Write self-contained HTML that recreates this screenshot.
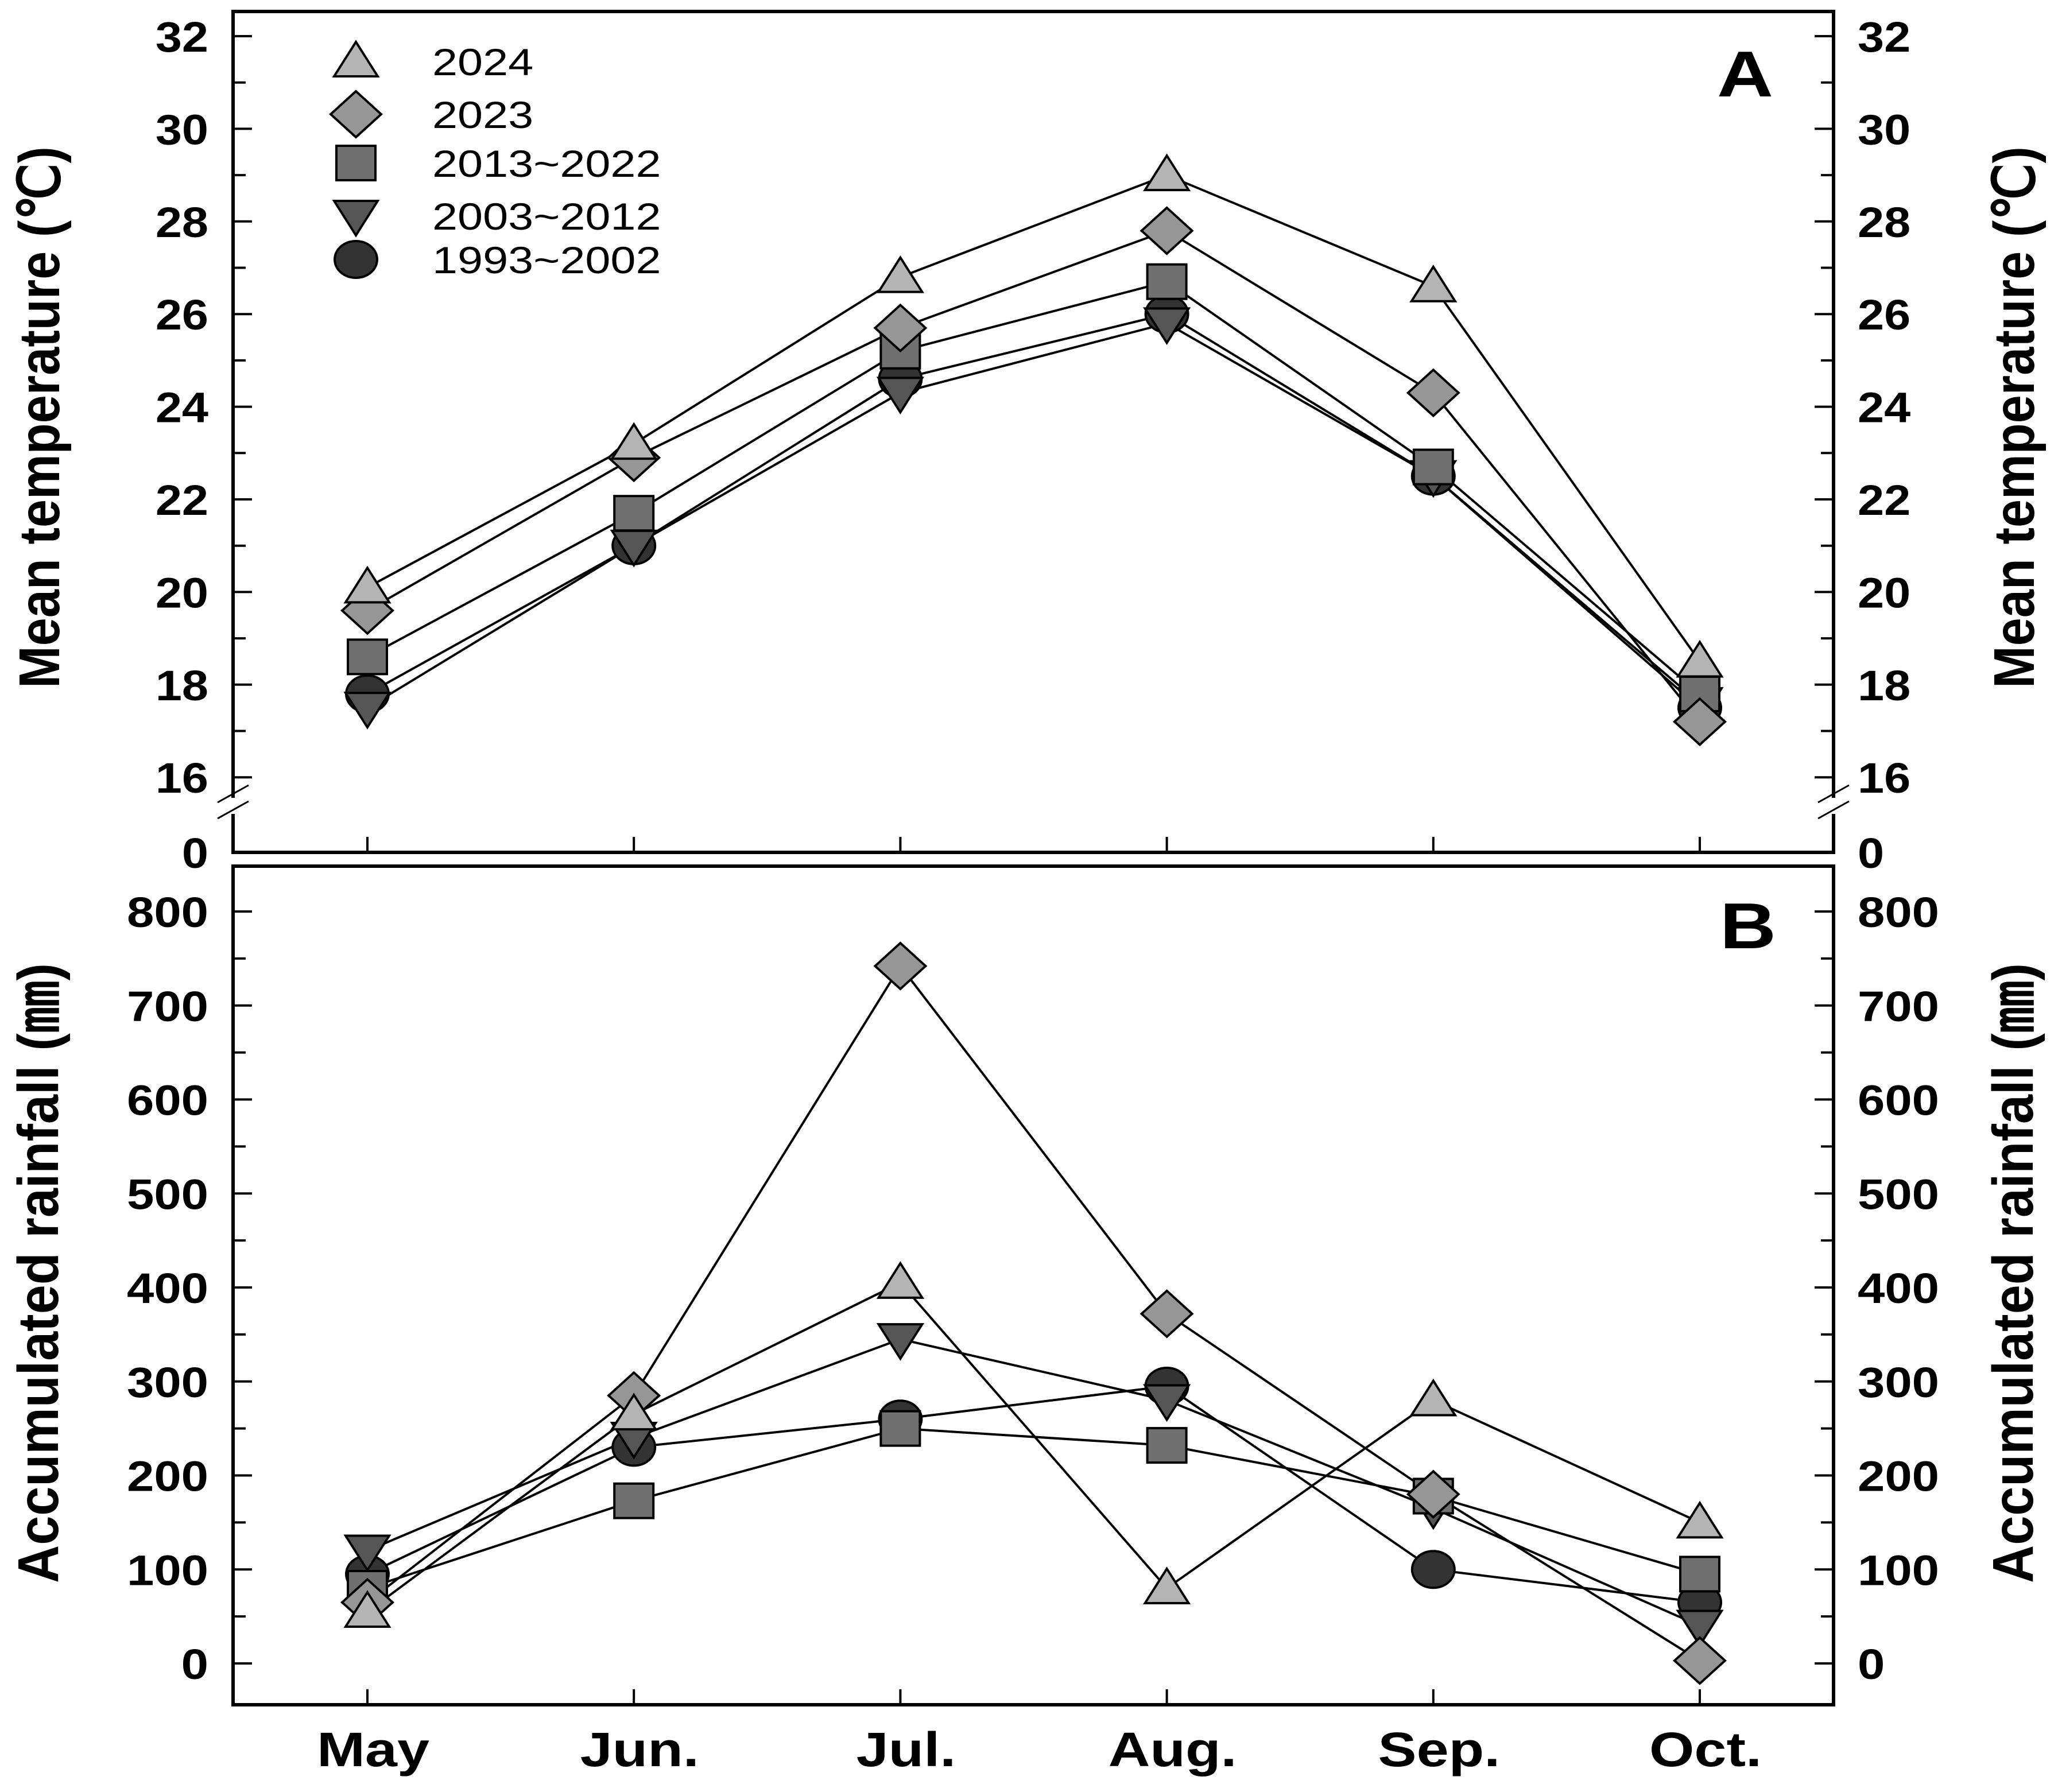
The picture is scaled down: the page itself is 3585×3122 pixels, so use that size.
<!DOCTYPE html>
<html><head><meta charset="utf-8"><style>html,body{margin:0;padding:0;background:#fff}svg{display:block}</style></head>
<body>
<svg id="chart" xmlns="http://www.w3.org/2000/svg" width="3585" height="3122" viewBox="0 0 3585 3122" font-family="Liberation Sans, Arial, sans-serif">
<rect width="3585" height="3122" fill="#fff"/>
<g id="root"></g>
</svg>
<script>
const months = ["May","Jun.","Jul.","Aug.","Sep.","Oct."];
const seriesNames = ["2024","2023","2013~2022","2003~2012","1993~2002"];
const temp2024 = [20.1,23.2,26.8,29.0,26.6,18.5];
const temp2023 = [19.6,22.9,25.7,27.8,24.3,17.2];
const temp2013 = [18.6,21.7,25.2,26.7,22.7,17.8];
const temp2003 = [17.5,21.0,24.3,25.8,22.5,17.6];
const temp1993 = [17.8,21.0,24.6,26.0,22.5,17.5];
const rain2024 = [55,265,405,80,280,150];
const rain2023 = [65,285,742,372,180,3];
const rain2013 = [80,173,250,232,178,95];
const rain2003 = [120,240,345,280,165,40];
const rain1993 = [95,230,260,295,100,65];
const tempTicks = [16,18,20,22,24,26,28,30,32];
const rainTicks = [0,100,200,300,400,500,600,700,800];

const NS="http://www.w3.org/2000/svg";
const root=document.getElementById('root');
function el(tag,attrs,parent){const e=document.createElementNS(NS,tag);for(const k in attrs)e.setAttribute(k,attrs[k]);(parent||root).appendChild(e);return e;}
function txt(s,x,y,fs,anchor,weight,sx,parent){
  const g=el('g',{transform:`translate(${x},${y}) scale(${sx},1)`},parent);
  const t=el('text',{x:0,y:0,'font-size':fs,'text-anchor':anchor,'font-weight':weight,fill:'#000'},g);
  t.textContent=s;return t;}

const L=406,R=3194;
const xOf=i=>640+i*464.2;
const yT=v=>63+(32-v)*80.7;
const yR=v=>2898-v*1.6375;
const styles=[
 {shape:'tri',fill:'#b4b4b4'},{shape:'dia',fill:'#969696'},{shape:'sq',fill:'#707070'},
 {shape:'tdown',fill:'#555555'},{shape:'circ',fill:'#333333'}];
function marker(shape,x,y,fill,parent){
  const a={fill:fill,stroke:'#000','stroke-width':4};let m;
  if(shape==='tri'){a.points=`${x-38},${y+26} ${x+38},${y+26} ${x},${y-34}`;m=el('polygon',a,parent);}
  else if(shape==='tdown'){a.points=`${x-38},${y-26} ${x+38},${y-26} ${x},${y+34}`;m=el('polygon',a,parent);}
  else if(shape==='dia'){a.points=`${x-44},${y} ${x},${y-40} ${x+44},${y} ${x},${y+40}`;m=el('polygon',a,parent);}
  else if(shape==='sq'){a.x=x-34;a.y=y-30;a.width=68;a.height=60;m=el('rect',a,parent);}
  else {a.cx=x;a.cy=y;a.rx=37;a.ry=32;m=el('ellipse',a,parent);}
  return m;}

// Panel A
const pA=el('g',{});


el('rect',{x:L,y:20,width:R-L,height:1465,fill:'none',stroke:'#000','stroke-width':6},pA);
for(let v=16;v<=32;v++){const y=yT(v);const len=v%2===0?33:22;
  el('line',{x1:L,y1:y,x2:L+len,y2:y,stroke:'#000','stroke-width':4},pA);
  el('line',{x1:R,y1:y,x2:R-len,y2:y,stroke:'#000','stroke-width':4},pA);}
tempTicks.forEach(v=>{const y=yT(v);
  const t1=txt(String(v),363,y+27,74,'end','bold',1.12,pA);
  const t2=txt(String(v),3236,y+27,74,'start','bold',1.12,pA);});
txt('0',363,1485+27,74,'end','bold',1.12,pA);
txt('0',3236,1485+27,74,'start','bold',1.12,pA);
months.forEach((m,i)=>el('line',{x1:xOf(i),y1:1485,x2:xOf(i),y2:1458,stroke:'#000','stroke-width':4},pA));
// axis breaks
[L,R].forEach(x=>{
  el('rect',{x:x-5,y:1390,width:10,height:28,fill:'#fff'},pA);
  el('line',{x1:x-27,y1:1398,x2:x+27,y2:1368,stroke:'#000','stroke-width':3},pA);
  el('line',{x1:x-27,y1:1426,x2:x+27,y2:1396,stroke:'#000','stroke-width':3},pA);});
const ta=txt('A',3040,168,113,'middle','bold',1.2,pA);
const tempSeries=[temp2024,temp2023,temp2013,temp2003,temp1993];
[4,3,2,1,0].forEach(s=>{const d=tempSeries[s];
  const pl=el('polyline',{points:d.map((v,i)=>`${xOf(i)},${yT(v)}`).join(' '),fill:'none',stroke:'#000','stroke-width':4},pA);
  
  });
[4,3,2,1,0].forEach(s=>{tempSeries[s].forEach((v,i)=>{const m=marker(styles[s].shape,xOf(i),yT(v),styles[s].fill,pA);
  
  });});
// legend
const lg=el('g',{});


const legY=[107,199,284,376,452];
seriesNames.forEach((n,s)=>{const m=marker(styles[s].shape,620,legY[s],styles[s].fill,lg);
  
  
  const t=txt(n,753,legY[s]+24,66,'start','normal',1.2,lg);
  
  });

// Panel B
const pB=el('g',{});


el('rect',{x:L,y:1509,width:R-L,height:1461,fill:'none',stroke:'#000','stroke-width':6},pB);
for(let v=0;v<=800;v+=50){const y=yR(v);const len=v%100===0?33:22;
  el('line',{x1:L,y1:y,x2:L+len,y2:y,stroke:'#000','stroke-width':4},pB);
  el('line',{x1:R,y1:y,x2:R-len,y2:y,stroke:'#000','stroke-width':4},pB);}
rainTicks.forEach(v=>{const y=yR(v);
  const t1=txt(String(v),363,y+27,74,'end','bold',1.15,pB);
  const t2=txt(String(v),3236,y+27,74,'start','bold',1.15,pB);});
months.forEach((m,i)=>{el('line',{x1:xOf(i),y1:2970,x2:xOf(i),y2:2943,stroke:'#000','stroke-width':4},pB);
  const t=txt(m,xOf(i)+10,3077,84,'middle','bold',1.2,pB);
  
  });
const tb=txt('B',3045,1652,113,'middle','bold',1.2,pB);
const rainSeries=[rain2024,rain2023,rain2013,rain2003,rain1993];
[4,3,2,1,0].forEach(s=>{const d=rainSeries[s];
  const pl=el('polyline',{points:d.map((v,i)=>`${xOf(i)},${yR(v)}`).join(' '),fill:'none',stroke:'#000','stroke-width':4},pB);
  
  });
[4,3,2,1,0].forEach(s=>{rainSeries[s].forEach((v,i)=>{const m=marker(styles[s].shape,xOf(i),yR(v),styles[s].fill,pB);
  
  });});

// axis titles
function vtitle(s,cx,cy,len,name){
  const t=el('text',{x:0,y:0,'font-size':100,'font-weight':'bold','text-anchor':'middle',textLength:len,lengthAdjust:'spacingAndGlyphs',transform:`translate(${cx+35},${cy}) rotate(-90)`});
  t.textContent=s;
  
  }
vtitle('Mean temperature (℃)',68,727,944,'y-axis-title-temp-left');
vtitle('Mean temperature (℃)',3508,727,944,'y-axis-title-temp-right');
vtitle('Accumulated rainfall  (㎜)',66,2218,1080,'y-axis-title-rain-left');
vtitle('Accumulated rainfall  (㎜)',3506,2218,1080,'y-axis-title-rain-right');
</script>
</body></html>
